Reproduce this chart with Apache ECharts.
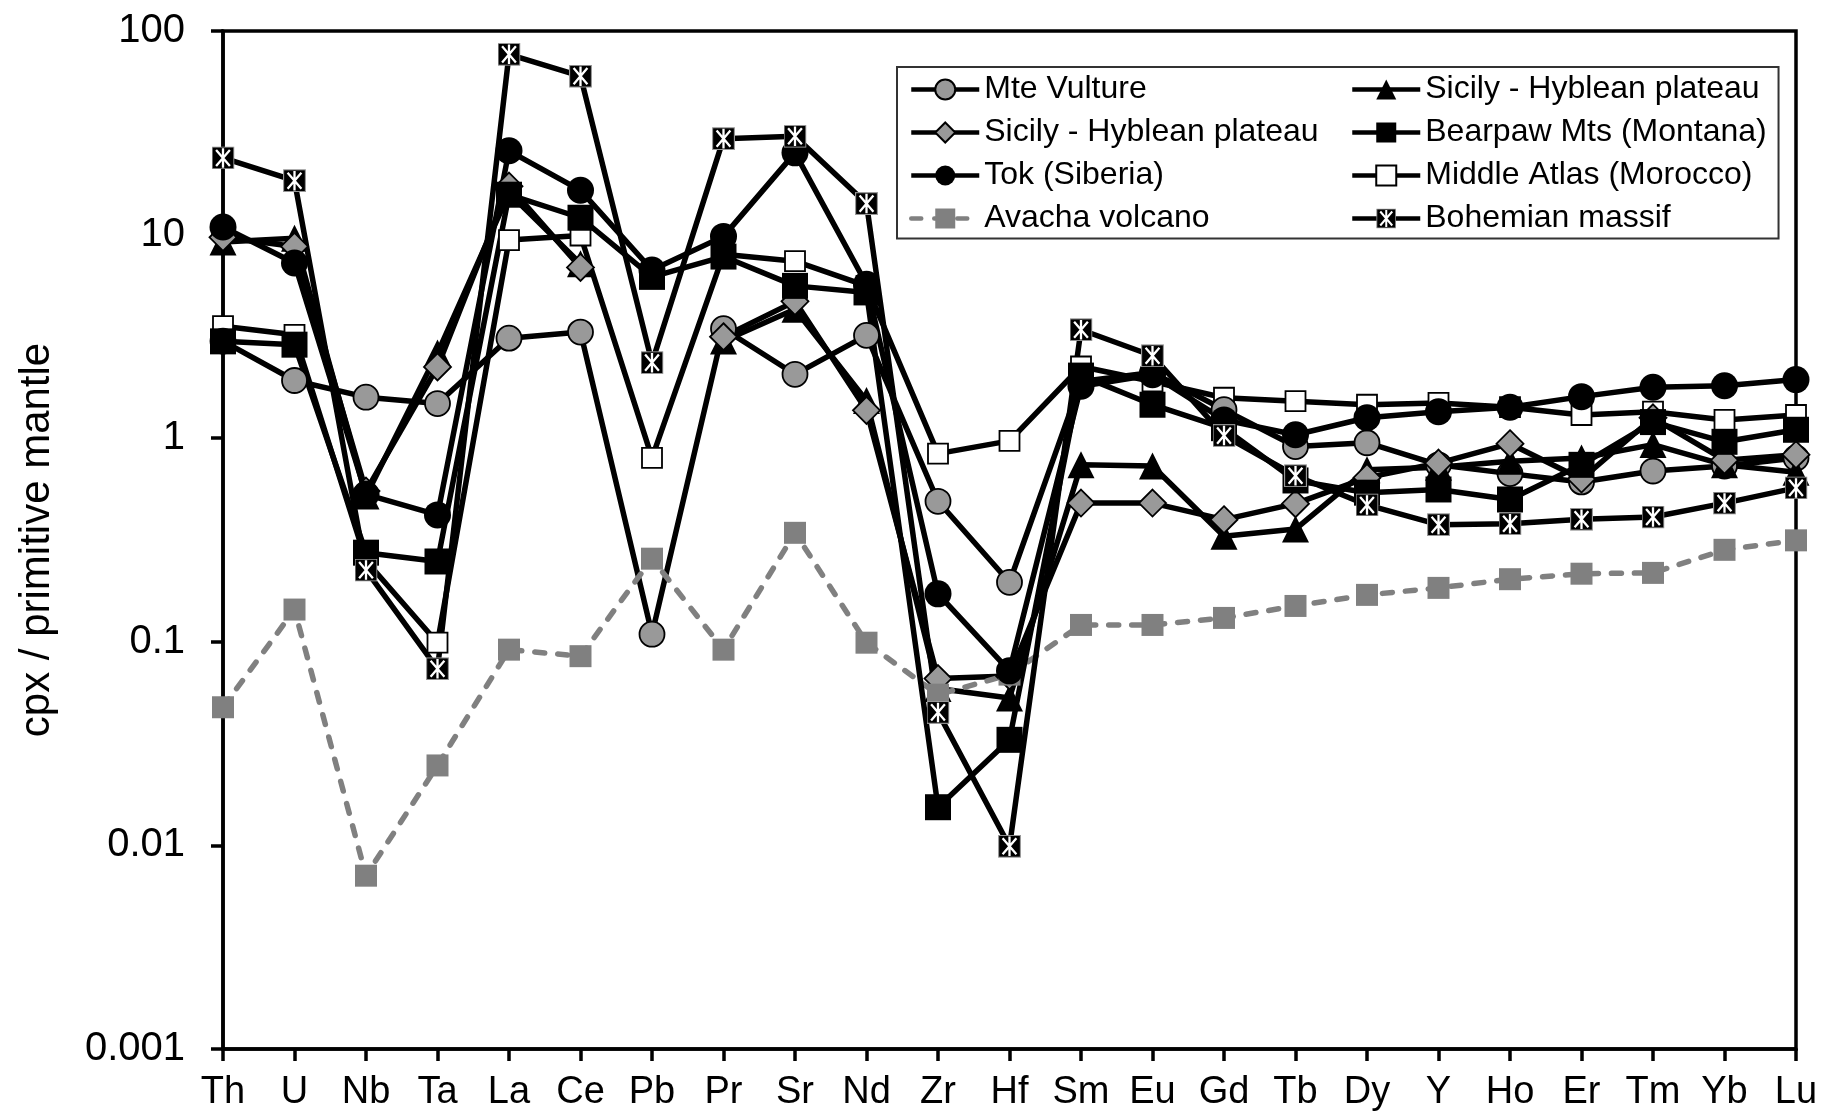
<!DOCTYPE html>
<html>
<head>
<meta charset="utf-8">
<script src="https://cdn.jsdelivr.net/npm/echarts@6/dist/echarts.min.js"></script>
<style>
html,body{margin:0;padding:0;background:#fff;}
#chart{width:1824px;height:1114px;}
</style>
</head>
<body>
<div id="chart"></div>
<script>
const categories = ['Th','U','Nb','Ta','La','Ce','Pb','Pr','Sr','Nd','Zr','Hf','Sm','Eu','Gd','Tb','Dy','Y','Ho','Er','Tm','Yb','Lu'];

const mteVulture   = [3.0, 1.92, 1.59, 1.48, 3.1, 3.32, 0.109, 3.45, 2.06, 3.2, 0.49, 0.196, 1.9, 2.1, 1.38, 0.91, 0.95, 0.74, 0.67, 0.61, 0.69, 0.73, 0.8];
const sicilyTri    = [9.2, 9.6, 0.52, 2.62, 16, 7.2, null, 3.0, 4.3, 1.53, 0.059, 0.053, 0.74, 0.73, 0.33, 0.358, 0.70, 0.72, 0.77, 0.8, 0.93, 0.74, 0.68];
const sicilyDia    = [9.7, 8.75, 0.55, 2.24, 17.3, 6.9, null, 3.15, 4.7, 1.37, 0.066, 0.068, 0.48, 0.48, 0.398, 0.477, 0.64, 0.755, 0.94, 0.63, 1.26, 0.78, 0.83];
const bearpaw      = [2.99, 2.88, 0.274, 0.248, 15.7, 12.1, 6.2, 7.8, 5.6, 5.2, 0.0154, 0.033, 2.03, 1.46, 1.12, 0.62, 0.54, 0.56, 0.50, 0.74, 1.2, 0.96, 1.10];
const tok          = [10.9, 7.25, 0.53, 0.42, 25.8, 16.5, 6.7, 9.8, 25.2, 5.7, 0.172, 0.072, 1.8, 2.05, 1.23, 1.04, 1.26, 1.35, 1.42, 1.6, 1.78, 1.81, 1.94];
const middleAtlas  = [3.55, 3.22, 0.25, 0.099, 9.4, 9.9, 0.8, 8.0, 7.4, 5.6, 0.84, 0.97, 2.25, 1.9, 1.58, 1.52, 1.46, 1.49, 1.42, 1.30, 1.35, 1.23, 1.30];
const avacha       = [0.0477, 0.144, 0.0071, 0.0247, 0.0915, 0.085, 0.256, 0.0915, 0.343, 0.099, 0.055, 0.069, 0.121, 0.121, 0.131, 0.150, 0.170, 0.184, 0.203, 0.216, 0.218, 0.283, 0.315];
const bohemian     = [23.8, 18.4, 0.225, 0.0737, 76.8, 60, 2.35, 29.6, 30.4, 14.2, 0.045, 0.0099, 3.41, 2.54, 1.03, 0.654, 0.47, 0.376, 0.38, 0.40, 0.41, 0.48, 0.57];

const yTicks = ['0.001','0.01','0.1','1','10','100'];

const NAME_MTE = 'Mte Vulture';
const NAME_TRI = 'Sicily - Hyblean plateau';
const NAME_DIA = 'Sicily - Hyblean plateau ';
const NAME_BEAR = 'Bearpaw Mts (Montana)';
const NAME_TOK = 'Tok (Siberia)';
const NAME_MID = 'Middle Atlas (Morocco)';
const NAME_AVA = 'Avacha volcano';
const NAME_BOH = 'Bohemian massif';

const legendCol1 = [NAME_MTE, NAME_DIA, NAME_TOK, NAME_AVA];
const legendCol2 = [NAME_TRI, NAME_BEAR, NAME_MID, NAME_BOH];

const FONT = '"Liberation Sans", Arial, Helvetica, sans-serif';

const bohemianSvg = '<svg xmlns="http://www.w3.org/2000/svg" width="40" height="40" viewBox="0 0 40 40">' +
  '<rect x="1" y="1" width="38" height="38" fill="#000" stroke="#999" stroke-width="2"/>' +
  '<path d="M8 6 L32 34 M32 6 L8 34 M20 3 L20 37" stroke="#fff" stroke-width="4" fill="none"/></svg>';
const bohemianSymbol = 'image://data:image/svg+xml;charset=utf-8,' + encodeURIComponent(bohemianSvg);

const LW = 5.5;

function blackSeries(name, data, symbol, size, fill, border) {
  return {
    name: name, type: 'line', data: data,
    symbol: symbol, symbolSize: size,
    connectNulls: false,
    lineStyle: { color: '#000', width: LW },
    itemStyle: { color: fill, borderColor: border || fill, borderWidth: border ? 1.8 : 0 },
    emphasis: { disabled: true }
  };
}

const legendCommon = {
  orient: 'vertical',
  top: 67,
  itemGap: 11,
  itemWidth: 68, itemHeight: 25,
  lineStyle: { width: 4.5 },
  textStyle: { fontSize: 32, color: '#000', fontFamily: FONT },
  selectedMode: false
};

const chart = echarts.init(document.getElementById('chart'), null, { renderer: 'canvas' });
chart.setOption({
  animation: false,
  backgroundColor: '#fff',
  textStyle: { fontFamily: FONT },
  grid: {
    left: 223, right: 28, top: 31, bottom: 65,
    show: true, borderColor: '#000', borderWidth: 3.5, backgroundColor: 'transparent'
  },
  legend: [
    Object.assign({}, legendCommon, {
      left: 897,
      padding: [6.5, 451, 4, 12],
      borderColor: '#333', borderWidth: 2,
      backgroundColor: '#fff',
      data: legendCol1
    }),
    Object.assign({}, legendCommon, {
      left: 1350,
      padding: [6.5, 0, 4, 0],
      backgroundColor: 'transparent',
      data: legendCol2
    })
  ],
  xAxis: {
    type: 'category',
    data: categories,
    boundaryGap: false,
    axisLine: { lineStyle: { color: '#000', width: 3.5 } },
    axisTick: { show: true, inside: false, length: 12, alignWithLabel: true, lineStyle: { color: '#000', width: 3.5 } },
    axisLabel: { fontSize: 38, color: '#000', margin: 25, fontFamily: FONT, interval: 0 },
    splitLine: { show: false }
  },
  yAxis: {
    type: 'log', logBase: 10, min: 0.001, max: 100,
    name: 'cpx / primitive mantle',
    nameLocation: 'middle', nameGap: 165, nameRotate: 90,
    nameTextStyle: { fontSize: 42, color: '#000', fontFamily: FONT },
    axisLine: { show: true, lineStyle: { color: '#000', width: 3.5 } },
    axisTick: { show: true, inside: false, length: 12, lineStyle: { color: '#000', width: 3.5 } },
    axisLabel: {
      fontSize: 40, color: '#000', margin: 38, fontFamily: FONT,
      formatter: function (v) {
        const e = Math.round(Math.log10(v));
        return yTicks[e + 3];
      }
    },
    splitLine: { show: false },
    minorTick: { show: false }
  },
  series: [
    blackSeries(NAME_MID, middleAtlas, 'rect', 20, '#fff', '#000'),
    blackSeries(NAME_MTE, mteVulture, 'circle', 25, '#999999', '#000'),
    blackSeries(NAME_TRI, sicilyTri, 'triangle', 27, '#000'),
    blackSeries(NAME_DIA, sicilyDia, 'diamond', 27, '#999999', '#000'),
    {
      name: NAME_AVA, type: 'line', data: avacha,
      symbol: 'rect', symbolSize: 22,
      lineStyle: { color: '#808080', width: LW, type: [10, 13], cap: 'round' },
      itemStyle: { color: '#808080' },
      emphasis: { disabled: true }
    },
    blackSeries(NAME_BEAR, bearpaw, 'rect', 26, '#000'),
    blackSeries(NAME_TOK, tok, 'circle', 27, '#000'),
    blackSeries(NAME_BOH, bohemian, bohemianSymbol, 23, '#000')
  ]
});
</script>
</body>
</html>
